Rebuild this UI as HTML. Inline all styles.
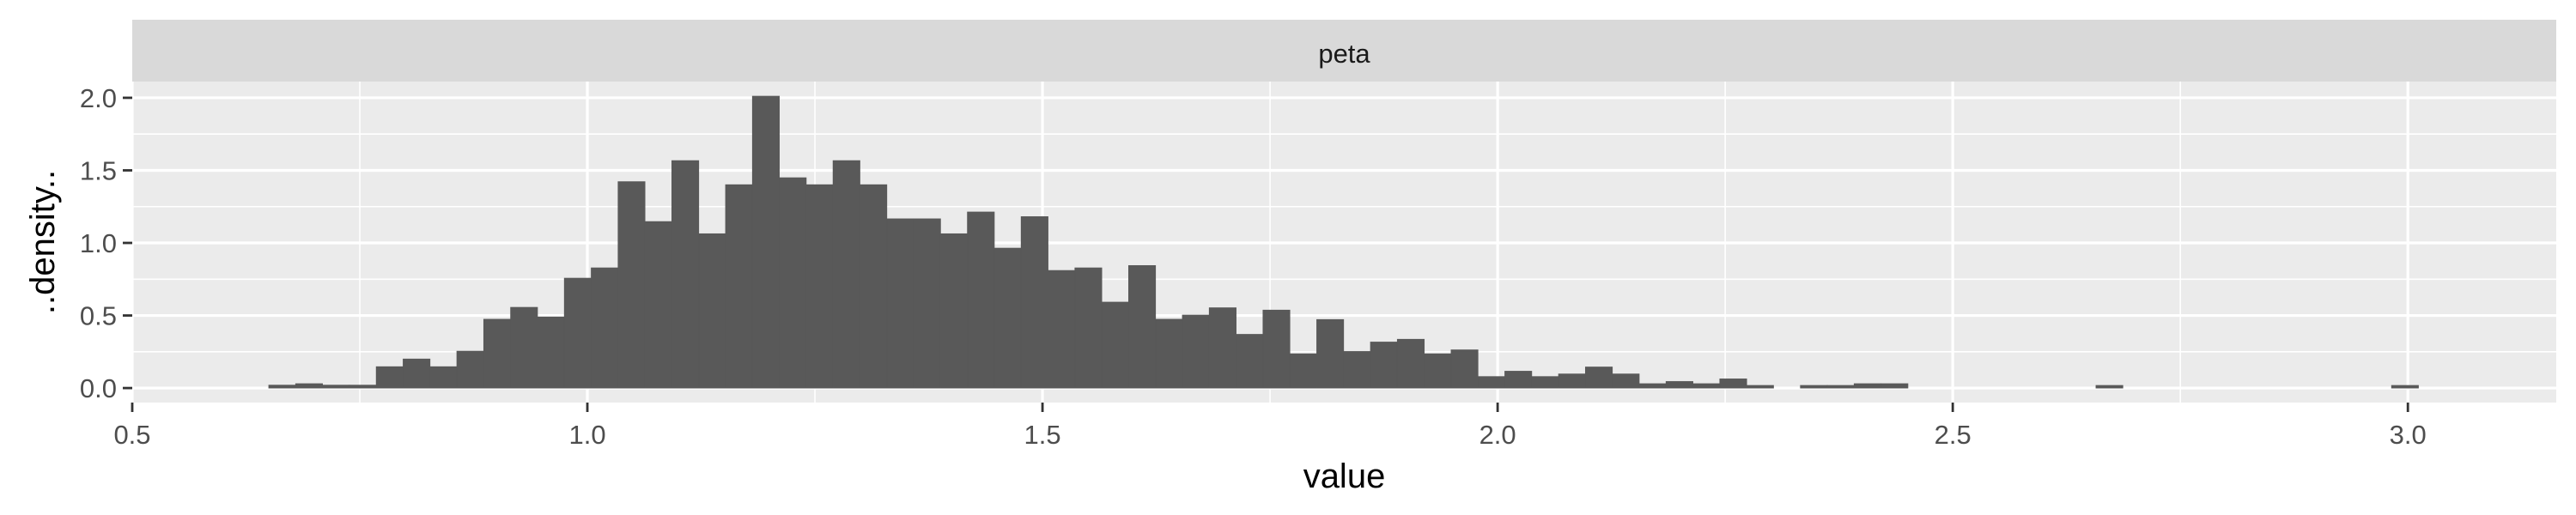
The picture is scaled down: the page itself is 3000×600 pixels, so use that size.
<!DOCTYPE html>
<html><head><meta charset="utf-8"><style>
html,body{margin:0;padding:0;background:#fff;}
svg{display:block;font-family:"Liberation Sans",Arial,sans-serif;}
</style></head><body>
<svg id="chart" width="3000" height="600" viewBox="0 0 3000 600"></svg>
<script>
const binStart = 0.65;
const binWidth = 0.02952;
const densities = [0.02,0.03,0.02,0.02,0.147,0.2,0.147,0.254,0.474,0.556,0.49,0.757,0.828,1.422,1.147,1.567,1.063,1.401,2.011,1.449,1.401,1.567,1.401,1.166,1.166,1.063,1.213,0.964,1.181,0.81,0.828,0.592,0.844,0.474,0.503,0.553,0.37,0.537,0.236,0.472,0.252,0.317,0.336,0.236,0.263,0.079,0.116,0.079,0.097,0.145,0.097,0.03,0.045,0.03,0.063,0.018,0,0.018,0.018,0.03,0.03,0,0,0,0,0,0,0,0.018,0,0,0,0,0,0,0,0,0,0,0.018];
const xTicks = [0.5,1.0,1.5,2.0,2.5,3.0];
const xTickLabels = ["0.5","1.0","1.5","2.0","2.5","3.0"];
const xMinor = [0.75,1.25,1.75,2.25,2.75];
const yTicks = [0,0.5,1.0,1.5,2.0];
const yTickLabels = ["0.0","0.5","1.0","1.5","2.0"];
const yMinor = [0.25,0.75,1.25,1.75];

const NS="http://www.w3.org/2000/svg";
const svg=document.getElementById('chart');
const PL=154,PR=2977,PT=95,PB=469;
const xMin=0.5,xMax=3.163,yMin=-0.1,yMax=2.112;
const X=v=>PL+(v-xMin)/(xMax-xMin)*(PR-PL);
const Y=v=>PB-(v-yMin)/(yMax-yMin)*(PB-PT);
function mk(tag,attrs,parent){const e=document.createElementNS(NS,tag);for(const k in attrs)e.setAttribute(k,attrs[k]);(parent||svg).appendChild(e);return e;}

const strip=mk('rect',{x:PL,y:23,width:PR-PL,height:72,fill:'#D9D9D9'});


const st=mk('text',{x:(PL+PR)/2,y:73,'text-anchor':'middle','font-size':31,fill:'#1A1A1A'});
st.textContent='peta';



const panel=mk('rect',{x:PL,y:PT,width:PR-PL,height:PB-PT,fill:'#EBEBEB'});



yMinor.forEach(v=>{const l=mk('line',{x1:PL,x2:PR,y1:Y(v),y2:Y(v),stroke:'#fff','stroke-width':1.6});

});
xMinor.forEach(v=>{const l=mk('line',{x1:X(v),x2:X(v),y1:PT,y2:PB,stroke:'#fff','stroke-width':1.6});

});
yTicks.forEach(v=>{const l=mk('line',{x1:PL,x2:PR,y1:Y(v),y2:Y(v),stroke:'#fff','stroke-width':3.2});

});
xTicks.forEach(v=>{const l=mk('line',{x1:X(v),x2:X(v),y1:PT,y2:PB,stroke:'#fff','stroke-width':3.2});

});

densities.forEach((d,i)=>{
  if(d<=0)return;
  const x0=X(binStart+i*binWidth),x1=X(binStart+(i+1)*binWidth);
  const r=mk('rect',{x:x0,y:Y(d),width:x1-x0,height:Y(0)-Y(d),fill:'#595959',stroke:'#595959','stroke-width':0.8});
  
  
});

xTicks.forEach((v,i)=>{
  const t=mk('line',{x1:X(v),x2:X(v),y1:PB,y2:PB+11,stroke:'#333','stroke-width':2.8});
  
  
  const tx=mk('text',{x:X(v),y:517,'text-anchor':'middle','font-size':31,fill:'#4D4D4D'});
  tx.textContent=xTickLabels[i];
  
  
});
yTicks.forEach((v,i)=>{
  const t=mk('line',{x1:PL-11,x2:PL,y1:Y(v),y2:Y(v),stroke:'#333','stroke-width':2.8});
  
  
  const tx=mk('text',{x:136,y:Y(v)+11,'text-anchor':'end','font-size':31,fill:'#4D4D4D'});
  tx.textContent=yTickLabels[i];
  
  
});

const xt=mk('text',{x:(PL+PR)/2,y:568,'text-anchor':'middle','font-size':40,fill:'#000'});
xt.textContent='value';


const yt=mk('text',{x:0,y:0,'text-anchor':'middle','font-size':40,fill:'#000',transform:'translate(63,'+((PT+PB)/2)+') rotate(-90)'});
yt.textContent='..density..';


</script>
</body></html>
